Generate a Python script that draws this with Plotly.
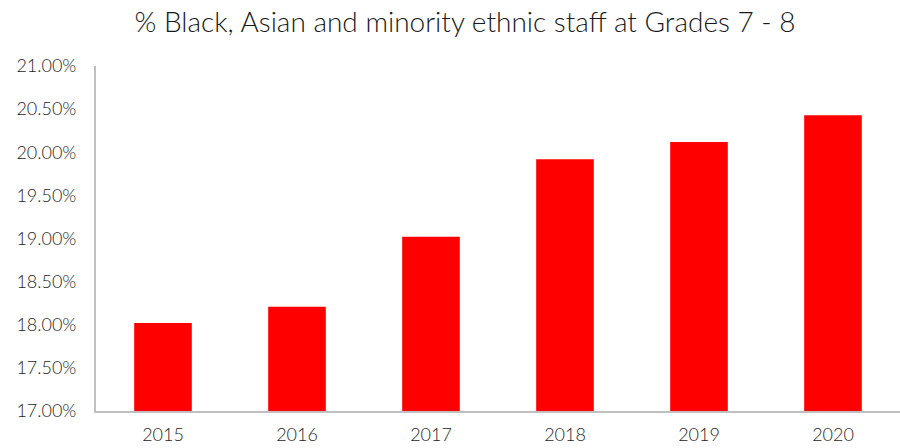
import plotly.graph_objects as go

years = ["2015", "2016", "2017", "2018", "2019", "2020"]
values = [18.02, 18.21, 19.02, 19.92, 20.12, 20.43]
ytick_vals = [17.0, 17.5, 18.0, 18.5, 19.0, 19.5, 20.0, 20.5, 21.0]
ytick_text = ["17.00%", "17.50%", "18.00%", "18.50%", "19.00%", "19.50%", "20.00%", "20.50%", "21.00%"]
title = "% Black, Asian and minority ethnic staff at Grades 7 - 8"

fig = go.Figure(go.Bar(x=years, y=values, marker=dict(color="#FF0000", line=dict(width=0)),
                       width=0.43))

fig.update_layout(
    width=900, height=448,
    margin=dict(l=96, r=0, t=66, b=37),
    paper_bgcolor="white", plot_bgcolor="white",
    font=dict(family="Lato, sans-serif", color="#262626"),
    title=dict(text=title, xref="paper", x=0.459, xanchor="center", y=0.95, yanchor="middle",
               font=dict(size=28, color="#1a1a1a", weight=300)),
    showlegend=False,
    xaxis=dict(showline=True, linecolor="#BFBFBF", linewidth=2, ticks="",
               ticklabelstandoff=6,
               tickfont=dict(size=18, color="#262626", weight=300), showgrid=False),
    yaxis=dict(range=[17, 21], tickvals=ytick_vals, ticktext=ytick_text,
               showline=True, linecolor="#BFBFBF", linewidth=2, showgrid=False,
               ticks="", ticklen=0, ticklabelstandoff=14,
               tickfont=dict(size=18, color="#262626", weight=300), zeroline=False),
)

fig.write_html("out.html")
